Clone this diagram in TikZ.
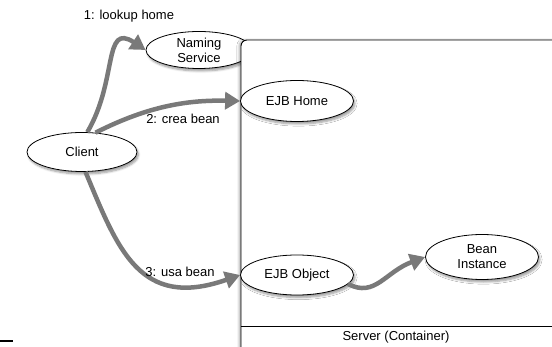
\documentclass[tikz,border=0pt]{standalone}
\usepackage{fontspec}
\setmainfont{Liberation Sans}
\usetikzlibrary{shapes.geometric,arrows.meta,shadows.blur}
\tikzset{
  oval/.style={ellipse, draw=black, line width=0.8pt, fill=white, inner sep=0pt,
    align=center, font=\fontsize{13}{15}\selectfont,
    blur shadow={shadow xshift=1.5pt, shadow yshift=-2.5pt, shadow blur steps=6, shadow opacity=40}},
  flow/.style={draw=gray!95!black, line width=4.5pt,
    -{Triangle[length=15pt,width=17pt]}},
  lbl/.style={font=\fontsize{13}{15}\selectfont, inner sep=0pt}
}
\begin{document}
\begin{tikzpicture}[x=1pt,y=-1pt]
\useasboundingbox (0,0) rectangle (552,347);
% nodes behind container
\node[oval, minimum width=106pt, minimum height=37pt] (ns) at (199,50) {Naming\\Service};
% container
\path[fill=white, blur shadow={shadow xshift=-2pt, shadow yshift=0pt, shadow blur steps=6, shadow opacity=30}, rounded corners=6pt]
  (241,365) -- (241,40) -- (570,40) -- (570,365) -- cycle;
\draw[line width=0.9pt, rounded corners=6pt] (241,365) -- (241,40) -- (570,40);
\coordinate (sl) at (241,326);
\coordinate (sr) at (560,326);
\draw[line width=0.8pt] (sl) -- (sr);
\node[lbl] (server) at (396,337.5) {Server (Container)};
% inner nodes
\node[oval, minimum width=113pt, minimum height=41pt] (home) at (297,101) {EJB Home};
\node[oval, minimum width=113pt, minimum height=40pt] (obj) at (297,275) {EJB Object};
\node[oval, minimum width=113pt, minimum height=45pt] (bean) at (482,257) {Bean\\Instance};
\node[oval, minimum width=110pt, minimum height=39pt] (client) at (82,152) {Client};
% connectors
\draw[flow] (client.75) .. controls (118,80) and (103,22) .. (ns.west);
\draw[flow] (client.55) .. controls (150,105) and (190,100) .. (home.west);
\draw[flow] (client.-80) .. controls (118,250) and (140,310) .. (obj.west);
\draw[flow] (obj.-10) .. controls (375,298) and (385,272) .. (bean.west);
% labels
\node[lbl] (l1) at (129,16) {1: lookup home};
\node[lbl] (l2) at (183,119) {2: crea bean};
\node[lbl] (l3) at (180,272) {3: usa bean};
% small mark bottom-left
\coordinate (ma) at (0,341);
\coordinate (mb) at (13,341);
\draw[line width=1.8pt] (ma) -- (mb);
\end{tikzpicture}
\end{document}
